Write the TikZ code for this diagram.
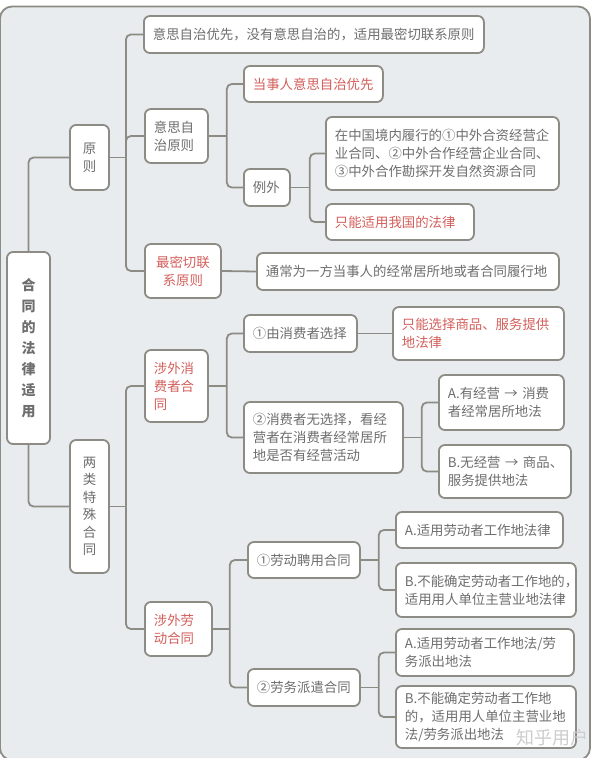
\documentclass[tikz,border=0pt]{standalone}
\usepackage{fontspec}
\usepackage{tikz}
\usetikzlibrary{positioning, calc}
\setmainfont{Noto Sans CJK SC}
\definecolor{panel color}{HTML}{E9ECEF}
\definecolor{wire color}{HTML}{8C8C84}
\definecolor{label color}{HTML}{6E6E6E}
\definecolor{hot color}{HTML}{D35F5B}
\definecolor{mark color}{HTML}{CDCDCD}
\hfuzz=30pt
\tikzset{link/.style={draw=wire color, line width=1.8pt, rounded corners=5pt}}
\tikzset{topic/.style={draw=wire color, fill=white, line width=1.8pt, rounded corners=6pt, text=label color, font=\fontsize{13.4}{18}\selectfont, align=left, inner xsep=9pt, inner ysep=0pt, anchor=west}}
\tikzset{hot/.style={topic, text=hot color}}
\tikzset{column/.style={topic, align=center, anchor=center, text width=14pt}}

\begin{document}
\begin{tikzpicture}[x=1pt, y=-1pt]
  \useasboundingbox (0,0) rectangle (606,758);
  \draw[draw=wire color, fill=panel color, line width=1.8pt, rounded corners=12pt] (0,6.5) rectangle (590,760);

  % root and the two main branches
  \node[column, font=\fontsize{14}{21}\selectfont\bfseries, minimum width=43pt, minimum height=192pt] (law) at (28.5,348) {合\\同\\的\\法\\律\\适\\用};
  \node[column, font=\fontsize{13.4}{18}\selectfont, minimum width=39pt, minimum height=65pt] (principle) at (89.5,157.5) {原\\则};
  \node[column, font=\fontsize{13.4}{17.5}\selectfont, minimum width=39pt, minimum height=133pt] (special) at (89.5,506.5) {两\\类\\特\\殊\\合\\同};

  % principles
  \node[topic, text width=322pt, minimum height=37pt] (priority) at (143,34.5) {意思自治优先，没有意思自治的，适用最密切联系原则};
  \node[topic, text width=45pt, minimum height=54pt] (autonomy) at (144,136) {意思自\\治原则};
  \node[hot, align=center, text width=58pt, minimum height=54pt] (closest) at (144,271) {最密切联\\系原则};
  \node[hot, text width=121pt, minimum height=36pt] (partyfirst) at (243,84) {当事人意思自治优先};
  \node[topic, text width=28pt, minimum height=37pt] (exception) at (243,187.5) {例外};
  \node[topic, text width=215pt, minimum height=73pt] (jvlist) at (325,153.5) {在中国境内履行的①中外合资经营企\\业合同、②中外合作经营企业合同、\\③中外合作勘探开发自然资源合同};
  \node[hot, text width=130pt, minimum height=36pt] (chinalaw) at (325,222) {只能适用我国的法律};
  \node[topic, text width=284pt, minimum height=37pt] (usualplace) at (256,271.5) {通常为一方当事人的经常居所地或者合同履行地};

  % consumer contracts
  \node[hot, text width=45pt, minimum height=72pt] (consumer) at (144,386) {涉外消\\费者合\\同};
  \node[topic, text width=95pt, minimum height=37pt] (chosen) at (243,333.5) {①由消费者选择};
  \node[topic, text width=141pt, minimum height=71pt] (unchosen) at (243,437.5) {②消费者无选择，看经\\营者在消费者经常居所\\地是否有经营活动};
  \node[hot, text width=153pt, minimum height=53pt] (chosenlaw) at (392,333.5) {只能选择商品、服务提供\\地法律};
  \node[topic, text width=107pt, minimum height=55pt] (withbiz) at (438,402.5) {A.有经营~→~消费\\者经常居所地法};
  \node[topic, text width=114pt, minimum height=53pt] (nobiz) at (438,471.5) {B.无经营~→~商品、\\服务提供地法};

  % labour contracts
  \node[hot, text width=49pt, minimum height=54pt] (labour) at (144,629) {涉外劳\\动合同};
  \node[topic, text width=94pt, minimum height=36pt] (employ) at (247,560) {①劳动聘用合同};
  \node[topic, text width=94pt, minimum height=37pt] (dispatch) at (247,687.5) {②劳务派遣合同};
  \node[topic, text width=149pt, minimum height=36pt] (employA) at (395,530) {A.适用劳动者工作地法律};
  \node[topic, text width=162pt, minimum height=54pt] (employB) at (395,590) {B.不能确定劳动者工作地的，\\适用用人单位主营业地法律};
  \node[topic, text width=160pt, minimum height=47pt] (dispatchA) at (395,652.5) {A.适用劳动者工作地法/劳\\务派出地法};
  \node[topic, text width=162pt, minimum height=62pt] (dispatchB) at (395,717) {B.不能确定劳动者工作地\\的，适用用人单位主营业地\\法/劳务派出地法};

  \node[text=mark color, font=\fontsize{18}{18}\selectfont, anchor=west, inner sep=0pt] (watermark) at (516,738) {知乎用户};

  % connectors
  \draw[link] (law.north) |- (principle.west);
  \draw[link] (law.south) |- (special.west);

  \draw[link] (principle.east) -- ++(16,0) coordinate (principle fork);
  \foreach \child in {priority, autonomy, closest}
    \draw[link] (principle fork) |- (\child.west);

  \draw[link] (autonomy.east) -- ++(18,0) coordinate (autonomy fork);
  \foreach \child in {partyfirst, exception}
    \draw[link] (autonomy fork) |- (\child.west);

  \draw[link] (exception.east) -- ++(19,0) coordinate (exception fork);
  \foreach \child in {jvlist, chinalaw}
    \draw[link] (exception fork) |- (\child.west);

  \draw[link] (closest.east) -- (usualplace.west);

  \draw[link] (special.east) -- ++(16,0) coordinate (special fork);
  \foreach \child in {consumer, labour}
    \draw[link] (special fork) |- (\child.west);

  \draw[link] (consumer.east) -- ++(18,0) coordinate (consumer fork);
  \foreach \child in {chosen, unchosen}
    \draw[link] (consumer fork) |- (\child.west);

  \draw[link] (chosen.east) -- (chosenlaw.west);

  \draw[link] (unchosen.east) -- ++(18,0) coordinate (unchosen fork);
  \foreach \child in {withbiz, nobiz}
    \draw[link] (unchosen fork) |- (\child.west);

  \draw[link] (labour.east) -- ++(17,0) coordinate (labour fork);
  \foreach \child in {employ, dispatch}
    \draw[link] (labour fork) |- (\child.west);

  \draw[link] (employ.east) -- ++(18,0) coordinate (employ fork);
  \foreach \child in {employA, employB}
    \draw[link] (employ fork) |- (\child.west);

  \draw[link] (dispatch.east) -- ++(18,0) coordinate (dispatch fork);
  \foreach \child in {dispatchA, dispatchB}
    \draw[link] (dispatch fork) |- (\child.west);
\end{tikzpicture}
\end{document}
